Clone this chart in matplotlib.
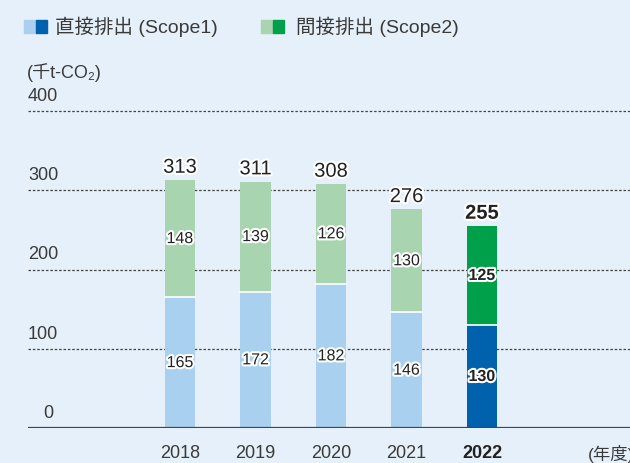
import matplotlib
matplotlib.use("Agg")
import matplotlib.pyplot as plt
import matplotlib.patheffects as pe
from matplotlib.patches import Rectangle

years = ["2018", "2019", "2020", "2021", "2022"]
scope1 = [165, 172, 182, 146, 130]
scope2 = [148, 139, 126, 130, 125]
totals = [313, 311, 308, 276, 255]
yticks = [0, 100, 200, 300, 400]
legend_labels = ["直接排出 (Scope1)", "間接排出 (Scope2)"]
unit_label = "(千t-CO₂)"
xunit_label = "(年度)"

BG = "#E6F0FA"
C1_LIGHT, C1_DARK = "#A9D0EF", "#0062AC"
C2_LIGHT, C2_DARK = "#A8D4AF", "#00A04A"
FAM = ["Liberation Sans", "Noto Sans CJK JP", "DejaVu Sans"]
TXT = "#3a3a3a"

W, H = 630, 464
fig = plt.figure(figsize=(W / 100, H / 100), dpi=100, facecolor=BG)

def fx(px):
    return px / W

def fy(py):
    return 1 - py / H

ax_left, ax_right, ax_top, ax_bottom = 28, 630, 90, 429
ax = fig.add_axes([fx(ax_left), fy(ax_bottom), fx(ax_right - ax_left), (ax_bottom - ax_top) / H])
ax.set_facecolor(BG)
ax.patch.set_alpha(0)

step = 75.5
xmin = -(180 - ax_left) / step
xmax = xmin + (ax_right - ax_left) / step
ax.set_xlim(xmin, xmax)
ymax = (ax_bottom - ax_top) / 0.7925
ax.set_ylim(0, ymax)

for s in ax.spines.values():
    s.set_visible(False)
ax.set_xticks([])
ax.set_yticks([])

# gridlines
for t in yticks[1:]:
    ax.axhline(t, color="#444444", lw=0.9, ls=(0, (2, 1.5)), zorder=1)
ax.axhline(0, color="#444444", lw=1.6, zorder=4)

bw = 0.41
xs = list(range(len(years)))
stroke = [pe.withStroke(linewidth=3, foreground="white")]
for i, x in enumerate(xs):
    last = i == len(xs) - 1
    c1 = C1_DARK if last else C1_LIGHT
    c2 = C2_DARK if last else C2_LIGHT
    ax.bar(x, scope1[i], width=bw, color=c1, zorder=2)
    ax.bar(x, scope2[i], width=bw, bottom=scope1[i], color=c2, zorder=2,
           edgecolor=BG, linewidth=0)
    ax.plot([x - bw / 2, x + bw / 2], [scope1[i], scope1[i]], color="white", lw=1.2, zorder=3)
    fw = "bold" if last else "normal"
    ax.text(x, scope1[i] / 2, str(scope1[i]), ha="center", va="center", fontsize=11.5,
            family=FAM, color="#222222", fontweight=fw, path_effects=stroke, zorder=5)
    ax.text(x, scope1[i] + scope2[i] / 2, str(scope2[i]), ha="center", va="center", fontsize=11.5,
            family=FAM, color="#222222", fontweight=fw, path_effects=stroke, zorder=5)
    ax.text(x, totals[i] + 4, str(totals[i]), ha="center", va="bottom", fontsize=14.5,
            family=FAM, color="#222222", fontweight=fw, path_effects=stroke, zorder=5)
    ax.text(x, -20, years[i], ha="center", va="top", fontsize=13, family=FAM,
            color="#222222" if last else TXT, fontweight=fw, clip_on=False)

# y tick labels (above gridlines)
for t in yticks:
    if t == 0:
        fig.text(fx(53), fy(ax_bottom - 0.7925 * t - 7), "0", ha="right", va="bottom",
                 fontsize=13, family=FAM, color=TXT)
    else:
        ax.text(0, t + 9, str(t), transform=ax.get_yaxis_transform(),
                ha="left", va="bottom", fontsize=13, family=FAM, color=TXT)

ax.text(xmax + 0.05, -20, xunit_label, ha="right", va="top", fontsize=12.5, family=FAM,
        color=TXT, clip_on=False)

# unit label
fig.text(fx(27), fy(73), unit_label, ha="left", va="center", fontsize=13, family=FAM, color=TXT)

# legend
def legend_item(x0, light, dark, label, tx):
    fig.patches.append(Rectangle((fx(x0), fy(34)), fx(12), 13 / H, color=light,
                                 transform=fig.transFigure, figure=fig))
    fig.patches.append(Rectangle((fx(x0 + 12), fy(34)), fx(11), 13 / H, color=dark,
                                 transform=fig.transFigure, figure=fig))
    fig.text(fx(tx), fy(27), label, ha="left", va="center", fontsize=14, family=FAM, color=TXT)

legend_item(24, C1_LIGHT, C1_DARK, legend_labels[0], 55)
legend_item(261, C2_LIGHT, C2_DARK, legend_labels[1], 296)

fig.savefig("out.png", dpi=100, facecolor=BG)
